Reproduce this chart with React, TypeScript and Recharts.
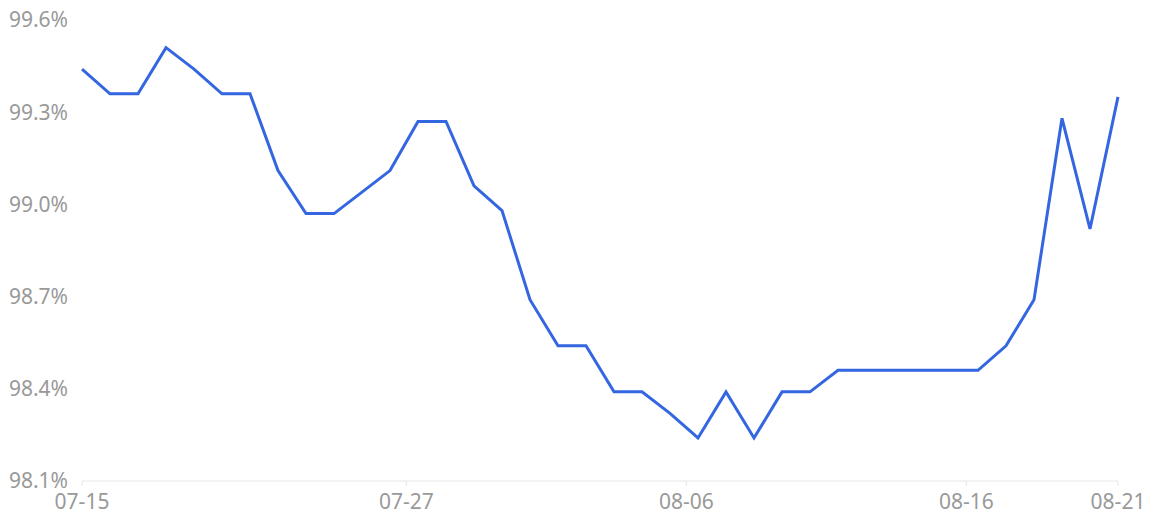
import { LineChart, Line, XAxis, YAxis } from 'recharts'

// one sample per day, taken around 10:00
const dates = [
   '07-15', '07-16', '07-17', '07-18', '07-19', '07-20', '07-21', '07-22', '07-23', '07-24',
   '07-25', '07-26', '07-27', '07-28', '07-29', '07-30', '07-31', '08-01', '08-02', '08-03',
   '08-04', '08-05', '08-06', '08-07', '08-08', '08-09', '08-10', '08-11', '08-12', '08-13',
   '08-14', '08-15', '08-16', '08-17', '08-18', '08-19', '08-20', '08-21',
]
const rates = [
   99.44, 99.36, 99.36, 99.51, 99.44, 99.36, 99.36, 99.11, 98.97, 98.97,
   99.04, 99.11, 99.27, 99.27, 99.06, 98.98, 98.69, 98.54, 98.54, 98.39,
   98.39, 98.32, 98.24, 98.39, 98.24, 98.39, 98.39, 98.46, 98.46, 98.46,
   98.46, 98.46, 98.46, 98.54, 98.69, 99.28, 98.92, 99.35,
]
const yTicks = [98.1, 98.4, 98.7, 99.0, 99.3, 99.6]
const xTickDates = ['07-15', '07-27', '08-06', '08-16', '08-21']
const sampleHour = 10

const offset = sampleHour / 24
const data = dates.map((d, i) => ({ date: d, x: i + offset, rate: rates[i] }))
const xMin = offset
const xMax = dates.length - 1 + offset
const xTicks = xTickDates.map((d, i) => {
   if (i === 0) return xMin
   if (i === xTickDates.length - 1) return xMax
   return dates.indexOf(d)
})

const fmtX = (v: number) => dates[Math.floor(v)] ?? ''
const fmtY = (v: number) => v.toFixed(1) + '%'

const tickStyle = { fill: '#999', fontSize: 21, fontFamily: '"Noto Sans", sans-serif' }

export default function App() {
   return (
      <div style={{ position: 'absolute', left: 0, top: 0, background: '#fff' }}>
         <LineChart width={1158} height={521} data={data} margin={{ top: 20, right: 40, bottom: 10, left: 0 }}>
            <XAxis
               dataKey='x'
               type='number'
               domain={[xMin, xMax]}
               ticks={xTicks}
               interval={0}
               tickFormatter={fmtX}
               height={30}
               tick={tickStyle}
               tickSize={5}
               tickMargin={8}
               axisLine={{ stroke: '#e6e6e6' }}
               tickLine={{ stroke: '#e6e6e6' }}
            />
            <YAxis
               type='number'
               domain={[98.1, 99.6]}
               ticks={yTicks}
               interval={0}
               tickFormatter={fmtY}
               width={82}
               tick={tickStyle}
               tickSize={0}
               tickMargin={14}
               axisLine={false}
               tickLine={false}
            />
            <Line
               dataKey='rate'
               type='linear'
               stroke='#3366E0'
               strokeWidth={3}
               dot={false}
               activeDot={false}
               isAnimationActive={false}
            />
         </LineChart>
      </div>
   )
}
